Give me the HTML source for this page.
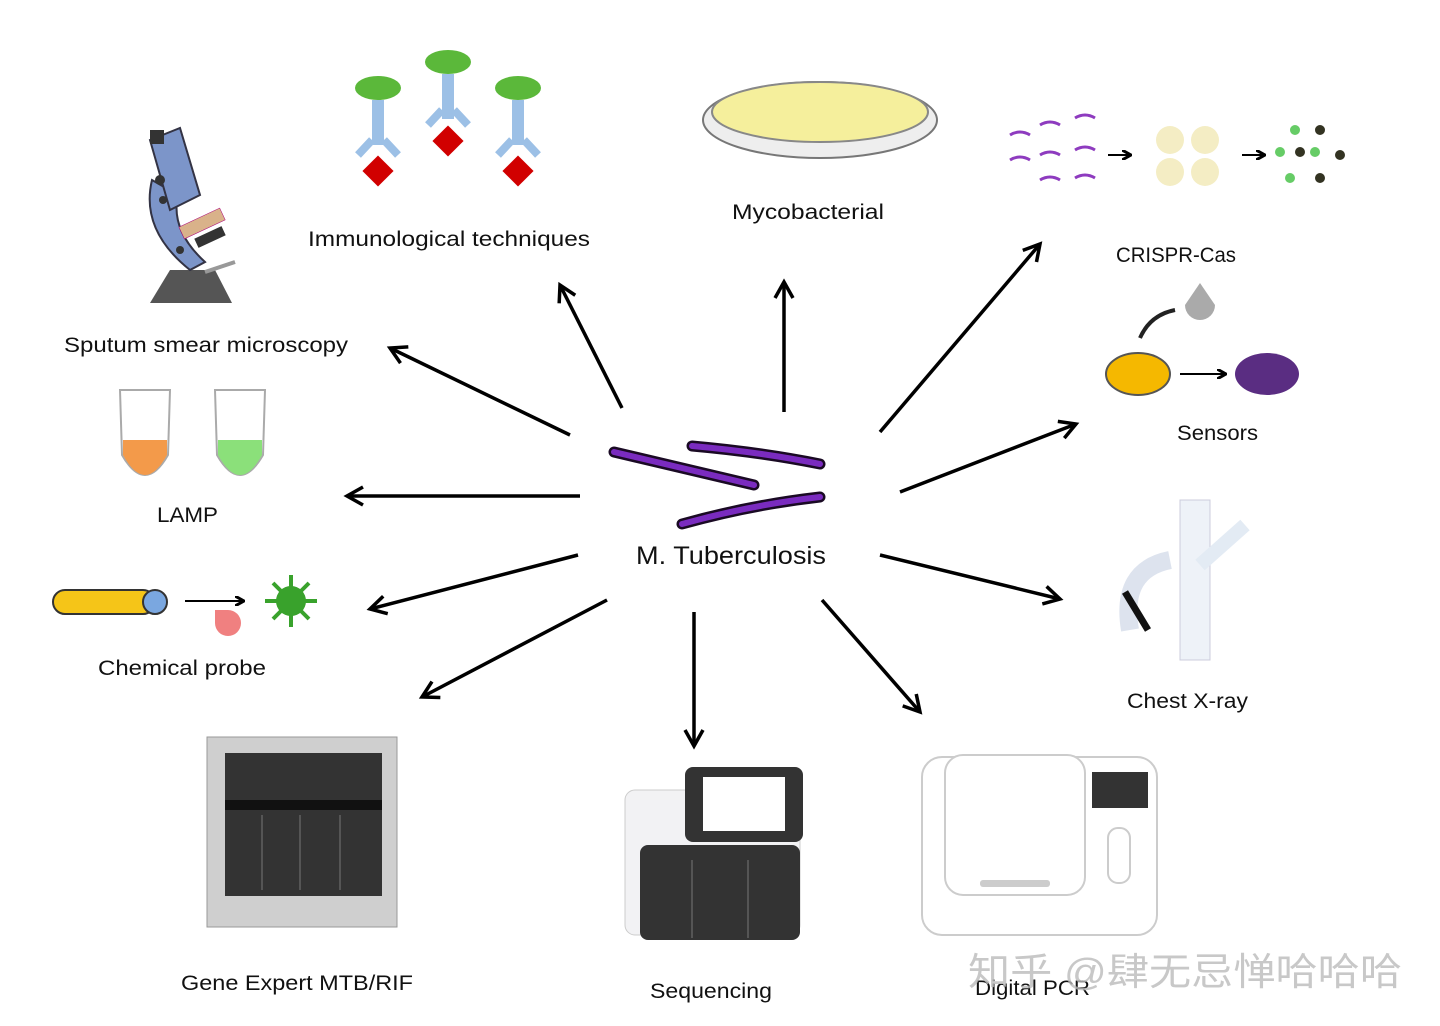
<!DOCTYPE html>
<html><head><meta charset="utf-8"><style>
html,body{margin:0;padding:0;background:#fff;}
svg{display:block;}
text{font-family:"Liberation Sans","Noto Sans CJK SC",sans-serif;fill:#111;}
</style></head><body>
<svg width="1440" height="1026" viewBox="0 0 1440 1026" xmlns="http://www.w3.org/2000/svg">
<defs>
<marker id="ah" markerWidth="10" markerHeight="10" refX="8" refY="5" orient="auto" markerUnits="userSpaceOnUse">
<path d="M0,0 L9,5 L0,10" fill="none" stroke="#000" stroke-width="3"/>
</marker>
<marker id="a" markerWidth="24" markerHeight="24" refX="20" refY="12" orient="auto" markerUnits="userSpaceOnUse">
<path d="M4,3 L20,12 L4,21" fill="none" stroke="#000" stroke-width="3.5"/>
</marker>
</defs>
<!-- bacteria -->
<g fill="none" stroke-linecap="round">
<g stroke="#1a0a24" stroke-width="11">
<path d="M614,452 Q690,470 754,485"/>
<path d="M692,446 Q760,452 820,464"/>
<path d="M682,524 Q750,505 820,497"/>
</g>
<g stroke="#7a2bbf" stroke-width="6">
<path d="M614,452 Q690,470 754,485"/>
<path d="M692,446 Q760,452 820,464"/>
<path d="M682,524 Q750,505 820,497"/>
</g>
</g>
<text x="636" y="564" font-size="25" textLength="190" lengthAdjust="spacingAndGlyphs">M. Tuberculosis</text>
<!-- arrows -->
<g stroke="#000" stroke-width="3.5" marker-end="url(#a)">
<line x1="570" y1="435" x2="390" y2="348"/>
<line x1="622" y1="408" x2="560" y2="285"/>
<line x1="784" y1="412" x2="784" y2="282"/>
<line x1="880" y1="432" x2="1040" y2="244"/>
<line x1="900" y1="492" x2="1076" y2="424"/>
<line x1="580" y1="496" x2="347" y2="496"/>
<line x1="578" y1="555" x2="370" y2="609"/>
<line x1="880" y1="555" x2="1060" y2="599"/>
<line x1="607" y1="600" x2="422" y2="697"/>
<line x1="694" y1="612" x2="694" y2="746"/>
<line x1="822" y1="600" x2="920" y2="712"/>
</g>
<!-- labels -->
<g font-size="21" lengthAdjust="spacingAndGlyphs">
<text x="64" y="352" textLength="284" lengthAdjust="spacingAndGlyphs">Sputum smear microscopy</text>
<text x="308" y="246" textLength="282" lengthAdjust="spacingAndGlyphs">Immunological techniques</text>
<text x="732" y="219" textLength="152" lengthAdjust="spacingAndGlyphs">Mycobacterial</text>
<text x="1116" y="262" textLength="120" lengthAdjust="spacingAndGlyphs">CRISPR-Cas</text>
<text x="1177" y="440" textLength="81" lengthAdjust="spacingAndGlyphs">Sensors</text>
<text x="157" y="522" textLength="61" lengthAdjust="spacingAndGlyphs">LAMP</text>
<text x="98" y="675" textLength="168" lengthAdjust="spacingAndGlyphs">Chemical probe</text>
<text x="1127" y="708" textLength="121" lengthAdjust="spacingAndGlyphs">Chest X-ray</text>
<text x="181" y="990" textLength="232" lengthAdjust="spacingAndGlyphs">Gene Expert MTB/RIF</text>
<text x="650" y="998" textLength="122" lengthAdjust="spacingAndGlyphs">Sequencing</text>
<text x="975" y="995" textLength="115" lengthAdjust="spacingAndGlyphs">Digital PCR</text>
</g>
<text x="968" y="985" font-size="38" textLength="434" lengthAdjust="spacingAndGlyphs" style="fill:#bbb;opacity:.8">知乎 @肆无忌惮哈哈哈</text>
<!-- microscope -->
<g>
<path d="M170,270 L215,270 L232,303 L150,303 Z" fill="#555"/>
<path d="M152,180 Q140,230 190,270 L205,262 Q170,230 178,195 Z" fill="#7c95c9" stroke="#334" stroke-width="2"/>
<path d="M150,140 L180,128 L200,195 L170,210 Z" fill="#7c95c9" stroke="#334" stroke-width="2"/>
<rect x="150" y="130" width="14" height="14" fill="#333"/>
<rect x="180" y="218" width="45" height="13" fill="#d9b28a" stroke="#a07" stroke-width="0.5" transform="rotate(-25 200 225)"/>
<rect x="195" y="232" width="30" height="10" fill="#333" transform="rotate(-25 210 237)"/>
<circole/>
<circle cx="160" cy="180" r="5" fill="#333"/><circle cx="163" cy="200" r="4" fill="#333"/><circle cx="180" cy="250" r="4" fill="#333"/>
<path d="M205,272 L235,262" stroke="#999" stroke-width="4"/>
</g>
<!-- antibodies -->
<g>
<g transform="translate(378,0)"><ellipse cx="0" cy="88" rx="23" ry="12" fill="#5bb83a"/><rect x="-6" y="100" width="12" height="45" fill="#9cc0e6"/><path d="M-6,140 L-20,155 M6,140 L20,155" stroke="#9cc0e6" stroke-width="8"/><rect x="-11" y="160" width="22" height="22" fill="#d10000" transform="rotate(45 0 171)"/></g>
<g transform="translate(448,-30)"><ellipse cx="0" cy="92" rx="23" ry="12" fill="#5bb83a"/><rect x="-6" y="104" width="12" height="45" fill="#9cc0e6"/><path d="M-6,140 L-20,155 M6,140 L20,155" stroke="#9cc0e6" stroke-width="8"/><rect x="-11" y="160" width="22" height="22" fill="#d10000" transform="rotate(45 0 171)"/></g>
<g transform="translate(518,0)"><ellipse cx="0" cy="88" rx="23" ry="12" fill="#5bb83a"/><rect x="-6" y="100" width="12" height="45" fill="#9cc0e6"/><path d="M-6,140 L-20,155 M6,140 L20,155" stroke="#9cc0e6" stroke-width="8"/><rect x="-11" y="160" width="22" height="22" fill="#d10000" transform="rotate(45 0 171)"/></g>
</g>
<!-- petri -->
<ellipse cx="820" cy="120" rx="117" ry="38" fill="#eee" stroke="#777" stroke-width="2"/>
<ellipse cx="820" cy="112" rx="108" ry="30" fill="#f5ef9c" stroke="#888" stroke-width="2"/>
<!-- CRISPR -->
<g stroke="#8e3bbf" stroke-width="3" fill="none">
<path d="M1010,135 q10,-6 20,0"/><path d="M1040,125 q10,-6 20,0"/><path d="M1075,118 q10,-6 20,0"/>
<path d="M1010,160 q10,-6 20,0"/><path d="M1040,155 q10,-6 20,0"/><path d="M1075,150 q10,-6 20,0"/>
<path d="M1040,180 q10,-6 20,0"/><path d="M1075,178 q10,-6 20,0"/>
</g>
<g fill="#f4edc4"><circle cx="1170" cy="140" r="14"/><circle cx="1205" cy="140" r="14"/><circle cx="1170" cy="172" r="14"/><circle cx="1205" cy="172" r="14"/></g>
<g fill="#6c6"><circle cx="1295" cy="130" r="5"/><circle cx="1280" cy="152" r="5"/><circle cx="1315" cy="152" r="5"/><circle cx="1290" cy="178" r="5"/></g>
<g fill="#332"><circle cx="1320" cy="130" r="5"/><circle cx="1300" cy="152" r="5"/><circle cx="1340" cy="155" r="5"/><circle cx="1320" cy="178" r="5"/></g>
<g stroke="#000" stroke-width="2" marker-end="url(#ah)"><line x1="1108" y1="155" x2="1130" y2="155"/><line x1="1242" y1="155" x2="1264" y2="155"/><line x1="1180" y1="374" x2="1225" y2="374"/><line x1="185" y1="601" x2="243" y2="601"/></g>
<!-- sensors -->
<path d="M1200,283 L1185,305 a15,15 0 0 0 30,0 Z" fill="#aaa"/>
<path d="M1175,310 Q1150,315 1140,338" stroke="#222" stroke-width="4" fill="none"/>
<ellipse cx="1138" cy="374" rx="32" ry="21" fill="#f5b800" stroke="#555" stroke-width="2"/>
<ellipse cx="1267" cy="374" rx="32" ry="21" fill="#5a2d82"/>
<!-- LAMP tubes -->
<g stroke="#aaa" stroke-width="2">
<path d="M120,390 L170,390 L168,455 Q145,495 122,455 Z" fill="#fff"/>
<path d="M123,440 L167,440 L167,455 Q145,495 123,455 Z" fill="#f39a4a" stroke="none"/>
<path d="M215,390 L265,390 L263,455 Q240,495 217,455 Z" fill="#fff"/>
<path d="M218,440 L262,440 L262,455 Q240,495 218,455 Z" fill="#8be07a" stroke="none"/>
</g>
<!-- chemical probe -->
<rect x="53" y="590" width="102" height="24" rx="12" fill="#f5c518" stroke="#333" stroke-width="2"/>
<circle cx="155" cy="602" r="12" fill="#7aa7e0" stroke="#333" stroke-width="2"/>
<path d="M215,610 L228,610 A13,13 0 1 1 215,623 Z" fill="#f08080"/>
<circle cx="291" cy="601" r="15" fill="#39a22c"/>
<g stroke="#39a22c" stroke-width="4"><line x1="291" y1="575" x2="291" y2="627"/><line x1="265" y1="601" x2="317" y2="601"/><line x1="273" y1="583" x2="309" y2="619"/><line x1="309" y1="583" x2="273" y2="619"/></g>
<!-- x-ray -->
<rect x="1180" y="500" width="30" height="160" fill="#eef2f8" stroke="#ccd" />
<path d="M1170,560 Q1120,570 1130,630" stroke="#dde3ee" stroke-width="18" fill="none"/>
<line x1="1125" y1="592" x2="1148" y2="630" stroke="#111" stroke-width="7"/>
<path d="M1200,565 L1245,525" stroke="#e3ebf4" stroke-width="14"/>
<!-- gene expert -->
<rect x="207" y="737" width="190" height="190" fill="#cfcfcf" stroke="#999"/>
<rect x="225" y="753" width="157" height="143" fill="#333"/>
<rect x="225" y="800" width="157" height="10" fill="#111"/>
<g stroke="#555" stroke-width="2"><line x1="262" y1="815" x2="262" y2="890"/><line x1="300" y1="815" x2="300" y2="890"/><line x1="340" y1="815" x2="340" y2="890"/></g>
<!-- sequencer -->
<rect x="625" y="790" width="175" height="145" rx="10" fill="#f2f2f4" stroke="#ccc"/>
<rect x="685" y="767" width="118" height="75" rx="8" fill="#333"/>
<rect x="703" y="777" width="82" height="54" fill="#fff"/>
<rect x="640" y="845" width="160" height="95" rx="8" fill="#333"/>
<g stroke="#555" stroke-width="2"><line x1="692" y1="860" x2="692" y2="938"/><line x1="748" y1="860" x2="748" y2="938"/></g>
<!-- digital PCR -->
<rect x="922" y="757" width="235" height="178" rx="20" fill="#fff" stroke="#ccc" stroke-width="2"/>
<rect x="945" y="755" width="140" height="140" rx="18" fill="#fff" stroke="#ccc" stroke-width="2"/>
<rect x="1092" y="772" width="56" height="36" fill="#333"/>
<rect x="1108" y="828" width="22" height="55" rx="10" fill="#fff" stroke="#ccc" stroke-width="2"/>
<rect x="980" y="880" width="70" height="7" rx="3" fill="#ccc"/>
</svg>
</body></html>
